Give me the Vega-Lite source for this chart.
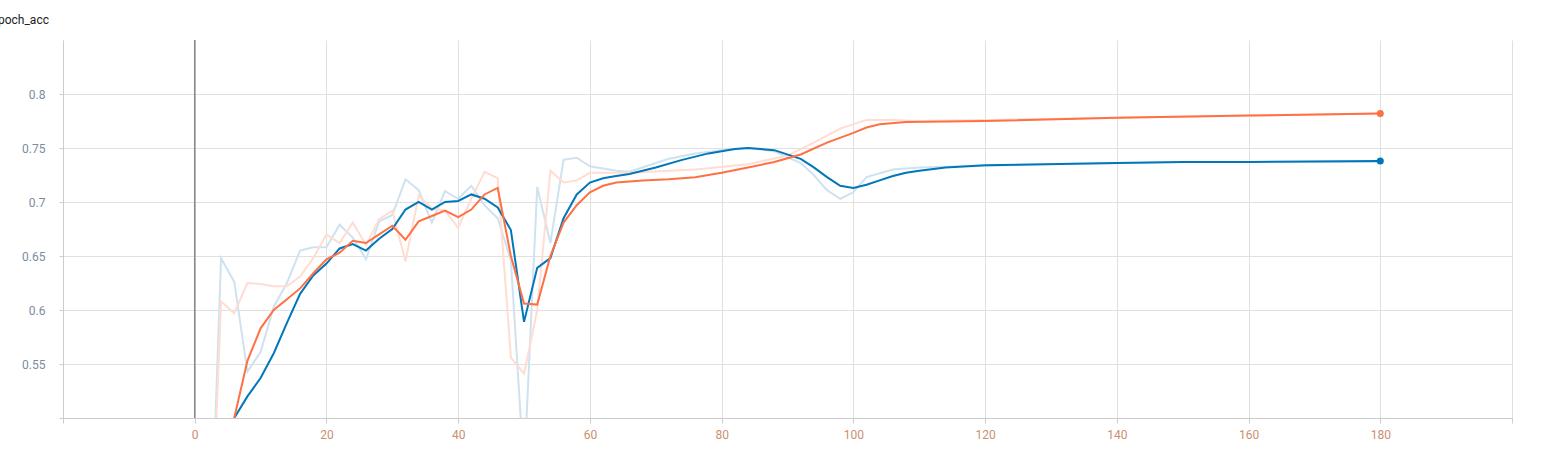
{
  "$schema": "https://vega.github.io/schema/vega-lite/v6.json",
  "autosize": "none",
  "width": 1449,
  "height": 378,
  "padding": {"left": 63, "top": 40, "right": 36, "bottom": 33},
  "title": {"text": "epoch_acc", "anchor": "start", "dx": -30, "offset": 12, "fontSize": 12, "fontWeight": "normal", "font": "Roboto", "color": "#212121"},
  "config": {"view": {"stroke": null}, "font": "Roboto"},
  "datasets": {
    "runs": [
      {"epoch": 2, "s": "blue_raw", "acc": 0.3}, {"epoch": 4, "s": "blue_raw", "acc": 0.648}, {"epoch": 6, "s": "blue_raw", "acc": 0.626}, {"epoch": 8, "s": "blue_raw", "acc": 0.543}, {"epoch": 10, "s": "blue_raw", "acc": 0.561}, {"epoch": 12, "s": "blue_raw", "acc": 0.603}, {"epoch": 14, "s": "blue_raw", "acc": 0.625}, {"epoch": 16, "s": "blue_raw", "acc": 0.655}, {"epoch": 18, "s": "blue_raw", "acc": 0.658}, {"epoch": 20, "s": "blue_raw", "acc": 0.658}, {"epoch": 22, "s": "blue_raw", "acc": 0.679}, {"epoch": 24, "s": "blue_raw", "acc": 0.667}, {"epoch": 26, "s": "blue_raw", "acc": 0.647}, {"epoch": 28, "s": "blue_raw", "acc": 0.682}, {"epoch": 30, "s": "blue_raw", "acc": 0.688}, {"epoch": 32, "s": "blue_raw", "acc": 0.721}, {"epoch": 34, "s": "blue_raw", "acc": 0.711}, {"epoch": 36, "s": "blue_raw", "acc": 0.681}, {"epoch": 38, "s": "blue_raw", "acc": 0.71}, {"epoch": 40, "s": "blue_raw", "acc": 0.703}, {"epoch": 42, "s": "blue_raw", "acc": 0.715}, {"epoch": 44, "s": "blue_raw", "acc": 0.697}, {"epoch": 46, "s": "blue_raw", "acc": 0.685}, {"epoch": 48, "s": "blue_raw", "acc": 0.646}, {"epoch": 50, "s": "blue_raw", "acc": 0.45}, {"epoch": 52, "s": "blue_raw", "acc": 0.714}, {"epoch": 54, "s": "blue_raw", "acc": 0.662}, {"epoch": 56, "s": "blue_raw", "acc": 0.739}, {"epoch": 58, "s": "blue_raw", "acc": 0.741}, {"epoch": 60, "s": "blue_raw", "acc": 0.733}, {"epoch": 64, "s": "blue_raw", "acc": 0.729}, {"epoch": 66, "s": "blue_raw", "acc": 0.728}, {"epoch": 72, "s": "blue_raw", "acc": 0.74}, {"epoch": 76, "s": "blue_raw", "acc": 0.745}, {"epoch": 80, "s": "blue_raw", "acc": 0.748}, {"epoch": 84, "s": "blue_raw", "acc": 0.75}, {"epoch": 88, "s": "blue_raw", "acc": 0.747}, {"epoch": 92, "s": "blue_raw", "acc": 0.736}, {"epoch": 94, "s": "blue_raw", "acc": 0.725}, {"epoch": 96, "s": "blue_raw", "acc": 0.711}, {"epoch": 98, "s": "blue_raw", "acc": 0.703}, {"epoch": 100, "s": "blue_raw", "acc": 0.709}, {"epoch": 102, "s": "blue_raw", "acc": 0.723}, {"epoch": 106, "s": "blue_raw", "acc": 0.73}, {"epoch": 110, "s": "blue_raw", "acc": 0.732}, {"epoch": 130, "s": "blue_raw", "acc": 0.735}, {"epoch": 150, "s": "blue_raw", "acc": 0.737}, {"epoch": 180, "s": "blue_raw", "acc": 0.737},
      {"epoch": 2, "s": "orange_raw", "acc": 0.3}, {"epoch": 4, "s": "orange_raw", "acc": 0.608}, {"epoch": 6, "s": "orange_raw", "acc": 0.597}, {"epoch": 8, "s": "orange_raw", "acc": 0.625}, {"epoch": 10, "s": "orange_raw", "acc": 0.624}, {"epoch": 12, "s": "orange_raw", "acc": 0.622}, {"epoch": 14, "s": "orange_raw", "acc": 0.622}, {"epoch": 16, "s": "orange_raw", "acc": 0.631}, {"epoch": 18, "s": "orange_raw", "acc": 0.648}, {"epoch": 20, "s": "orange_raw", "acc": 0.67}, {"epoch": 22, "s": "orange_raw", "acc": 0.662}, {"epoch": 24, "s": "orange_raw", "acc": 0.681}, {"epoch": 26, "s": "orange_raw", "acc": 0.66}, {"epoch": 28, "s": "orange_raw", "acc": 0.684}, {"epoch": 30, "s": "orange_raw", "acc": 0.692}, {"epoch": 32, "s": "orange_raw", "acc": 0.645}, {"epoch": 34, "s": "orange_raw", "acc": 0.706}, {"epoch": 36, "s": "orange_raw", "acc": 0.694}, {"epoch": 38, "s": "orange_raw", "acc": 0.692}, {"epoch": 40, "s": "orange_raw", "acc": 0.676}, {"epoch": 42, "s": "orange_raw", "acc": 0.703}, {"epoch": 44, "s": "orange_raw", "acc": 0.728}, {"epoch": 46, "s": "orange_raw", "acc": 0.722}, {"epoch": 48, "s": "orange_raw", "acc": 0.556}, {"epoch": 50, "s": "orange_raw", "acc": 0.541}, {"epoch": 52, "s": "orange_raw", "acc": 0.6}, {"epoch": 54, "s": "orange_raw", "acc": 0.729}, {"epoch": 56, "s": "orange_raw", "acc": 0.718}, {"epoch": 58, "s": "orange_raw", "acc": 0.72}, {"epoch": 60, "s": "orange_raw", "acc": 0.727}, {"epoch": 66, "s": "orange_raw", "acc": 0.727}, {"epoch": 76, "s": "orange_raw", "acc": 0.73}, {"epoch": 84, "s": "orange_raw", "acc": 0.735}, {"epoch": 90, "s": "orange_raw", "acc": 0.743}, {"epoch": 94, "s": "orange_raw", "acc": 0.755}, {"epoch": 98, "s": "orange_raw", "acc": 0.768}, {"epoch": 102, "s": "orange_raw", "acc": 0.776}, {"epoch": 106, "s": "orange_raw", "acc": 0.776}, {"epoch": 110, "s": "orange_raw", "acc": 0.775}, {"epoch": 140, "s": "orange_raw", "acc": 0.778}, {"epoch": 180, "s": "orange_raw", "acc": 0.782},
      {"epoch": 6, "s": "blue", "acc": 0.5}, {"epoch": 8, "s": "blue", "acc": 0.52}, {"epoch": 10, "s": "blue", "acc": 0.537}, {"epoch": 12, "s": "blue", "acc": 0.56}, {"epoch": 14, "s": "blue", "acc": 0.588}, {"epoch": 16, "s": "blue", "acc": 0.615}, {"epoch": 18, "s": "blue", "acc": 0.632}, {"epoch": 20, "s": "blue", "acc": 0.643}, {"epoch": 22, "s": "blue", "acc": 0.657}, {"epoch": 24, "s": "blue", "acc": 0.661}, {"epoch": 26, "s": "blue", "acc": 0.655}, {"epoch": 28, "s": "blue", "acc": 0.666}, {"epoch": 30, "s": "blue", "acc": 0.675}, {"epoch": 32, "s": "blue", "acc": 0.693}, {"epoch": 34, "s": "blue", "acc": 0.7}, {"epoch": 36, "s": "blue", "acc": 0.693}, {"epoch": 38, "s": "blue", "acc": 0.7}, {"epoch": 40, "s": "blue", "acc": 0.701}, {"epoch": 42, "s": "blue", "acc": 0.707}, {"epoch": 44, "s": "blue", "acc": 0.703}, {"epoch": 46, "s": "blue", "acc": 0.695}, {"epoch": 48, "s": "blue", "acc": 0.674}, {"epoch": 50, "s": "blue", "acc": 0.589}, {"epoch": 52, "s": "blue", "acc": 0.639}, {"epoch": 54, "s": "blue", "acc": 0.648}, {"epoch": 56, "s": "blue", "acc": 0.685}, {"epoch": 58, "s": "blue", "acc": 0.707}, {"epoch": 60, "s": "blue", "acc": 0.718}, {"epoch": 62, "s": "blue", "acc": 0.722}, {"epoch": 64, "s": "blue", "acc": 0.724}, {"epoch": 66, "s": "blue", "acc": 0.726}, {"epoch": 70, "s": "blue", "acc": 0.732}, {"epoch": 74, "s": "blue", "acc": 0.739}, {"epoch": 78, "s": "blue", "acc": 0.745}, {"epoch": 82, "s": "blue", "acc": 0.749}, {"epoch": 84, "s": "blue", "acc": 0.75}, {"epoch": 88, "s": "blue", "acc": 0.748}, {"epoch": 92, "s": "blue", "acc": 0.74}, {"epoch": 94, "s": "blue", "acc": 0.732}, {"epoch": 96, "s": "blue", "acc": 0.723}, {"epoch": 98, "s": "blue", "acc": 0.715}, {"epoch": 100, "s": "blue", "acc": 0.713}, {"epoch": 102, "s": "blue", "acc": 0.716}, {"epoch": 104, "s": "blue", "acc": 0.72}, {"epoch": 106, "s": "blue", "acc": 0.724}, {"epoch": 108, "s": "blue", "acc": 0.727}, {"epoch": 110, "s": "blue", "acc": 0.729}, {"epoch": 114, "s": "blue", "acc": 0.732}, {"epoch": 120, "s": "blue", "acc": 0.734}, {"epoch": 140, "s": "blue", "acc": 0.736}, {"epoch": 150, "s": "blue", "acc": 0.737}, {"epoch": 160, "s": "blue", "acc": 0.737}, {"epoch": 180, "s": "blue", "acc": 0.738},
      {"epoch": 6, "s": "orange", "acc": 0.5}, {"epoch": 8, "s": "orange", "acc": 0.553}, {"epoch": 10, "s": "orange", "acc": 0.583}, {"epoch": 12, "s": "orange", "acc": 0.6}, {"epoch": 14, "s": "orange", "acc": 0.61}, {"epoch": 16, "s": "orange", "acc": 0.62}, {"epoch": 18, "s": "orange", "acc": 0.634}, {"epoch": 20, "s": "orange", "acc": 0.647}, {"epoch": 22, "s": "orange", "acc": 0.653}, {"epoch": 24, "s": "orange", "acc": 0.664}, {"epoch": 26, "s": "orange", "acc": 0.662}, {"epoch": 28, "s": "orange", "acc": 0.67}, {"epoch": 30, "s": "orange", "acc": 0.678}, {"epoch": 32, "s": "orange", "acc": 0.665}, {"epoch": 34, "s": "orange", "acc": 0.682}, {"epoch": 36, "s": "orange", "acc": 0.687}, {"epoch": 38, "s": "orange", "acc": 0.692}, {"epoch": 40, "s": "orange", "acc": 0.686}, {"epoch": 42, "s": "orange", "acc": 0.693}, {"epoch": 44, "s": "orange", "acc": 0.707}, {"epoch": 46, "s": "orange", "acc": 0.713}, {"epoch": 48, "s": "orange", "acc": 0.65}, {"epoch": 50, "s": "orange", "acc": 0.606}, {"epoch": 52, "s": "orange", "acc": 0.605}, {"epoch": 54, "s": "orange", "acc": 0.65}, {"epoch": 56, "s": "orange", "acc": 0.681}, {"epoch": 58, "s": "orange", "acc": 0.697}, {"epoch": 60, "s": "orange", "acc": 0.709}, {"epoch": 62, "s": "orange", "acc": 0.715}, {"epoch": 64, "s": "orange", "acc": 0.718}, {"epoch": 68, "s": "orange", "acc": 0.72}, {"epoch": 72, "s": "orange", "acc": 0.721}, {"epoch": 76, "s": "orange", "acc": 0.723}, {"epoch": 80, "s": "orange", "acc": 0.727}, {"epoch": 84, "s": "orange", "acc": 0.732}, {"epoch": 88, "s": "orange", "acc": 0.737}, {"epoch": 92, "s": "orange", "acc": 0.744}, {"epoch": 96, "s": "orange", "acc": 0.755}, {"epoch": 100, "s": "orange", "acc": 0.764}, {"epoch": 102, "s": "orange", "acc": 0.769}, {"epoch": 104, "s": "orange", "acc": 0.772}, {"epoch": 108, "s": "orange", "acc": 0.774}, {"epoch": 120, "s": "orange", "acc": 0.775}, {"epoch": 140, "s": "orange", "acc": 0.778}, {"epoch": 160, "s": "orange", "acc": 0.78}, {"epoch": 180, "s": "orange", "acc": 0.782}
    ],
    "zero": [{"epoch": 0}]
  },
  "layer": [
    {
      "data": {"name": "zero"},
      "mark": {"type": "rule", "color": "#888", "strokeWidth": 1.5},
      "encoding": {"x": {"field": "epoch", "type": "quantitative", "scale": {"domain": [-20, 200]}}}
    },
    {
      "data": {"name": "runs"},
      "mark": {"type": "line", "clip": true, "strokeWidth": 2},
      "encoding": {
        "x": {"field": "epoch", "type": "quantitative", "scale": {"domain": [-20, 200], "nice": false},
          "axis": {"title": null, "values": [-20, 0, 20, 40, 60, 80, 100, 120, 140, 160, 180, 200], "labelExpr": "datum.value < 0 || datum.value > 180 ? '' : datum.label",
            "grid": true, "gridColor": "#e0e0e0", "domainColor": "#ccc", "tickColor": "#ccc", "labelColor": "#c9906f", "labelFontSize": 12, "labelPadding": 6}},
        "y": {"field": "acc", "type": "quantitative", "scale": {"domain": [0.5, 0.85], "nice": false, "zero": false},
          "axis": {"title": null, "values": [0.5, 0.55, 0.6, 0.65, 0.7, 0.75, 0.8], "format": ".2~f", "labelExpr": "datum.value < 0.52 ? '' : datum.label",
            "grid": true, "gridColor": "#e0e0e0", "domain": true, "domainColor": "#ccc", "tickColor": "#ccc", "labelColor": "#7a8ca0", "labelFontSize": 12, "labelPadding": 14, "tickSize": 4}},
        "color": {"field": "s", "type": "nominal", "legend": null,
          "scale": {"domain": ["blue_raw", "orange_raw", "blue", "orange"], "range": ["#cfe2f0", "#ffddd3", "#0077bb", "#ff7043"]}}
      }
    },
    {
      "data": {"name": "runs"},
      "transform": [{"filter": "datum.epoch == 180 && (datum.s == 'blue' || datum.s == 'orange')"}],
      "mark": {"type": "circle", "size": 50, "opacity": 1},
      "encoding": {
        "x": {"field": "epoch", "type": "quantitative"},
        "y": {"field": "acc", "type": "quantitative"},
        "color": {"field": "s", "type": "nominal", "legend": null}
      }
    }
  ]
}
